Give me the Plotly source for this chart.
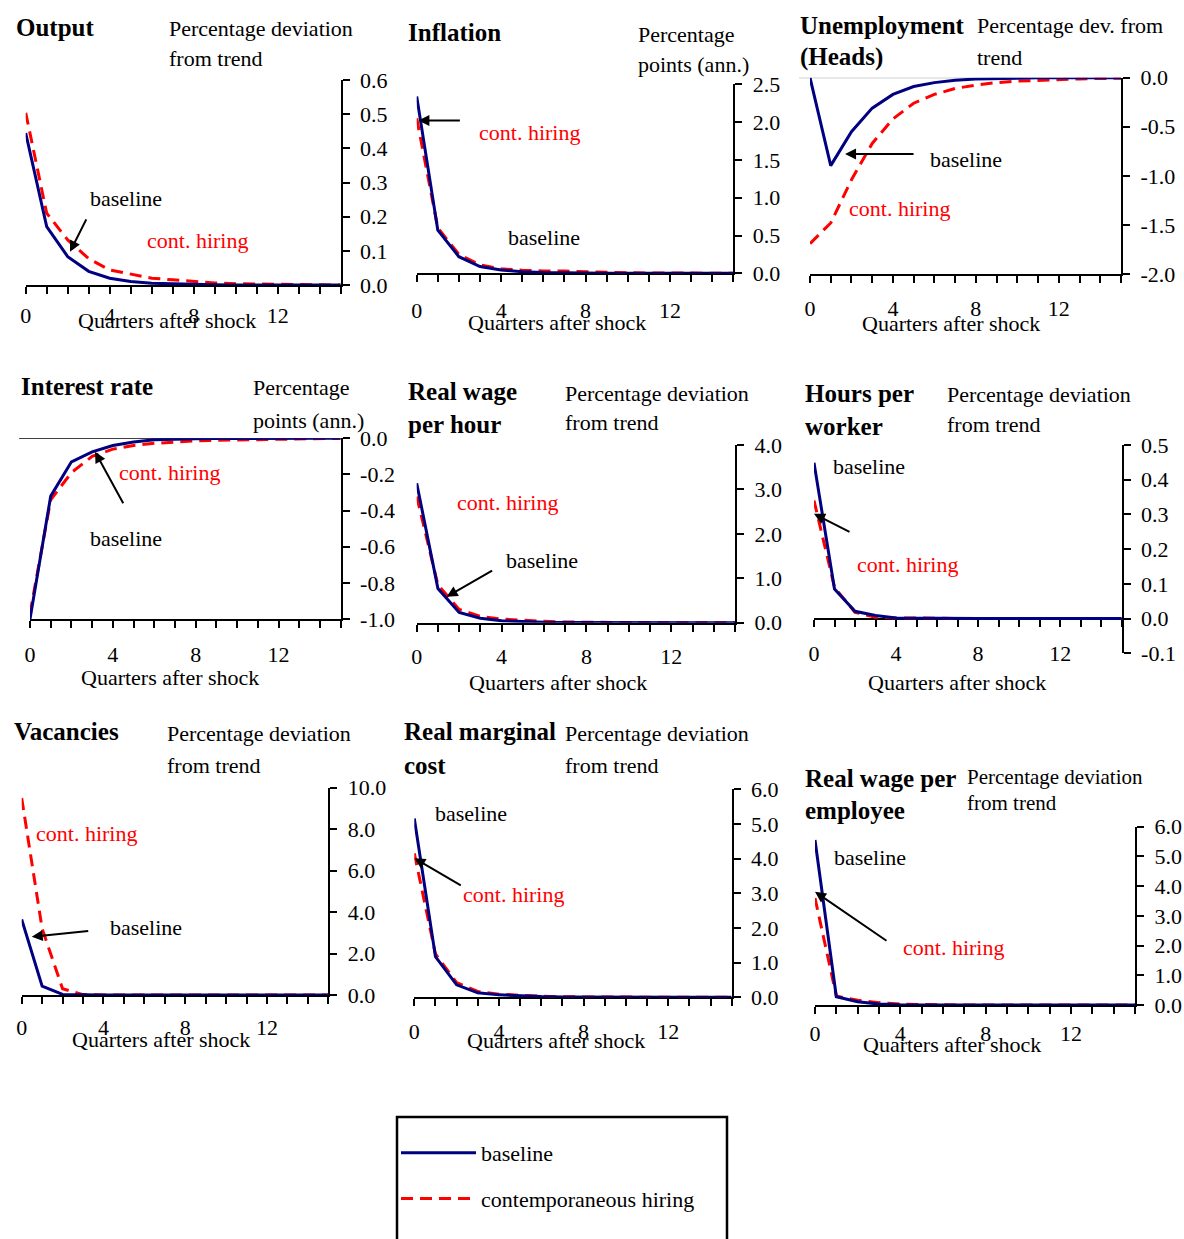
import plotly.graph_objects as go

W, H = 1184, 1239
FONT = "Liberation Serif"
BLUE = "#000080"
RED = "#FF0000"

# ---------------- data (quarters after shock 0..15) ----------------
quarters = list(range(16))
x_tickvals = list(range(16))
x_ticktext = ["0", "", "", "", "4", "", "", "", "8", "", "", "", "12", "", "", ""]

output_baseline = [0.445, 0.171, 0.083, 0.040, 0.020, 0.010, 0.005, 0.003, 0.002, 0.001, 0, 0, 0, 0, 0, 0]
output_hiring = [0.504, 0.210, 0.132, 0.077, 0.044, 0.031, 0.020, 0.015, 0.010, 0.006, 0.004, 0.003, 0.002, 0.001, 0.001, 0]

inflation_baseline = [2.34, 0.57, 0.22, 0.09, 0.044, 0.02, 0.01, 0.005, 0.003, 0.002, 0.001, 0, 0, 0, 0, 0]
inflation_hiring = [2.05, 0.60, 0.25, 0.11, 0.06, 0.04, 0.03, 0.03, 0.02, 0.01, 0.007, 0.005, 0.003, 0.002, 0.001, 0]

unemp_baseline = [0, -0.896, -0.55, -0.31, -0.17, -0.09, -0.05, -0.025, -0.012, -0.006, -0.003, -0.001, 0, 0, 0, 0]
unemp_hiring = [-1.69, -1.48, -1.04, -0.67, -0.42, -0.26, -0.17, -0.11, -0.075, -0.05, -0.035, -0.025, -0.018, -0.012, -0.008, -0.005]

interest_baseline = [-1.0, -0.32, -0.13, -0.075, -0.04, -0.02, -0.008, -0.004, -0.002, -0.001, 0, 0, 0, 0, 0, 0]
interest_hiring = [-0.97, -0.34, -0.19, -0.10, -0.06, -0.04, -0.028, -0.02, -0.014, -0.011, -0.009, -0.006, -0.004, -0.002, -0.001, 0]

wage_hour_baseline = [3.14, 0.77, 0.23, 0.10, 0.045, 0.02, 0.01, 0.005, 0.002, 0.001, 0, 0, 0, 0, 0, 0]
wage_hour_hiring = [2.84, 0.85, 0.30, 0.14, 0.08, 0.05, 0.03, 0.015, 0.008, 0.004, 0.002, 0.001, 0, 0, 0, 0]

hours_baseline = [0.449, 0.085, 0.021, 0.009, 0.002, 0.001, 0, 0, 0, 0, 0, 0, 0, 0, 0, 0]
hours_hiring = [0.34, 0.09, 0.018, 0.004, 0.002, 0.001, 0, 0, 0, 0, 0, 0, 0, 0, 0, 0]

vacancies_baseline = [3.65, 0.43, 0.03, 0, 0, 0, 0, 0, 0, 0, 0, 0, 0, 0, 0, 0]
vacancies_hiring = [9.5, 3.2, 0.3, 0.02, 0, 0, 0, 0, 0, 0, 0, 0, 0, 0, 0, 0]

rmc_baseline = [5.16, 1.17, 0.36, 0.13, 0.07, 0.04, 0.02, 0.01, 0.005, 0.002, 0.001, 0, 0, 0, 0, 0]
rmc_hiring = [4.15, 1.25, 0.42, 0.17, 0.09, 0.05, 0.03, 0.015, 0.008, 0.004, 0.002, 0.001, 0, 0, 0, 0]

wage_emp_baseline = [5.55, 0.28, 0.11, 0.03, 0.01, 0, 0, 0, 0, 0, 0, 0, 0, 0, 0, 0]
wage_emp_hiring = [3.6, 0.3, 0.16, 0.08, 0.03, 0.01, 0.005, 0, 0, 0, 0, 0, 0, 0, 0, 0]

# y tick values / labels
output_yticks = [0, 0.1, 0.2, 0.3, 0.4, 0.5, 0.6]
output_ylabels = ["0.0", "0.1", "0.2", "0.3", "0.4", "0.5", "0.6"]
inflation_yticks = [0, 0.5, 1.0, 1.5, 2.0, 2.5]
inflation_ylabels = ["0.0", "0.5", "1.0", "1.5", "2.0", "2.5"]
unemp_yticks = [-2.0, -1.5, -1.0, -0.5, 0]
unemp_ylabels = ["-2.0", "-1.5", "-1.0", "-0.5", "0.0"]
interest_yticks = [-1.0, -0.8, -0.6, -0.4, -0.2, 0]
interest_ylabels = ["-1.0", "-0.8", "-0.6", "-0.4", "-0.2", "0.0"]
wage_hour_yticks = [0, 1, 2, 3, 4]
wage_hour_ylabels = ["0.0", "1.0", "2.0", "3.0", "4.0"]
hours_yticks = [-0.1, 0, 0.1, 0.2, 0.3, 0.4, 0.5]
hours_ylabels = ["-0.1", "0.0", "0.1", "0.2", "0.3", "0.4", "0.5"]
vacancies_yticks = [0, 2, 4, 6, 8, 10]
vacancies_ylabels = ["0.0", "2.0", "4.0", "6.0", "8.0", "10.0"]
rmc_yticks = [0, 1, 2, 3, 4, 5, 6]
rmc_ylabels = ["0.0", "1.0", "2.0", "3.0", "4.0", "5.0", "6.0"]
wage_emp_yticks = [0, 1, 2, 3, 4, 5, 6]
wage_emp_ylabels = ["0.0", "1.0", "2.0", "3.0", "4.0", "5.0", "6.0"]

# ---------------- panel layout (pixel geometry & texts) ----------------
panels = [
    dict(base=output_baseline, hire=output_hiring, yr=[0, 0.6], yt=output_yticks, yl=output_ylabels,
         L=25.7, R=340.7, T=80, B=285, xaxis_at=None, standoff=3,
         title=[("Output", 14, 27)], units=[("Percentage deviation", 167, 28), ("from trend", 167, 58)],
         qpos=(167, 320),
         base_lbl=(88, 198), hire_lbl=(145, 240),
         arrow=(2.11, 0.097, 17, -34)),
    dict(base=inflation_baseline, hire=inflation_hiring, yr=[0, 2.5], yt=inflation_yticks, yl=inflation_ylabels,
         L=416.7, R=733.3, T=84.3, B=273.3, xaxis_at=None, standoff=9,
         title=[("Inflation", 406, 32)], units=[("Percentage", 636, 35), ("points (ann.)", 636, 65)],
         qpos=(557, 322),
         base_lbl=(506, 237), hire_lbl=(477, 132),
         arrow=(0.08, 2.02, 43, 0)),
    dict(base=unemp_baseline, hire=unemp_hiring, yr=[-2.0, 0], yt=unemp_yticks, yl=unemp_ylabels,
         L=810, R=1121, T=77.7, B=274, xaxis_at=None, standoff=7,
         title=[("Unemployment", 798, 26), ("(Heads)", 798, 57)],
         units=[("Percentage dev. from", 975, 26), ("trend", 975, 57)],
         qpos=(951, 323),
         base_lbl=(928, 159), hire_lbl=(847, 209),
         arrow=(1.69, -0.777, 70, 0), zero=("#888888", 1)),
    dict(base=interest_baseline, hire=interest_hiring, yr=[-1.0, 0], yt=interest_yticks, yl=interest_ylabels,
         L=30, R=340.7, T=438.3, B=619, xaxis_at=None, standoff=8,
         title=[("Interest rate", 19, 387)], units=[("Percentage", 251, 388), ("points (ann.)", 251, 420)],
         qpos=(170, 677),
         base_lbl=(88, 538), hire_lbl=(117, 472),
         arrow=(3.14, -0.074, 29, 53), zero=("#000000", 1.5)),
    dict(base=wage_hour_baseline, hire=wage_hour_hiring, yr=[0, 4], yt=wage_hour_yticks, yl=wage_hour_ylabels,
         L=416.7, R=735, T=445, B=622.7, xaxis_at=None, standoff=6,
         title=[("Real wage", 406, 392), ("per hour", 406, 424)],
         units=[("Percentage deviation", 563, 393), ("from trend", 563, 422)],
         qpos=(558, 682),
         base_lbl=(504, 560), hire_lbl=(455, 502),
         arrow=(1.41, 0.585, 47, -27)),
    dict(base=hours_baseline, hire=hours_hiring, yr=[-0.1, 0.5], yt=hours_yticks, yl=hours_ylabels,
         L=814, R=1121.7, T=445, B=653.3, xaxis_at=619, standoff=8,
         title=[("Hours per", 803, 393), ("worker", 803, 426)],
         units=[("Percentage deviation", 945, 394), ("from trend", 945, 424)],
         qpos=(957, 682),
         base_lbl=(831, 467), hire_lbl=(855, 564),
         arrow=(0.0, 0.302, 37, 19)),
    dict(base=vacancies_baseline, hire=vacancies_hiring, yr=[0, 10], yt=vacancies_yticks, yl=vacancies_ylabels,
         L=21.7, R=328.3, T=787.7, B=995, xaxis_at=None, standoff=5,
         title=[("Vacancies", 12, 732)], units=[("Percentage deviation", 165, 733), ("from trend", 165, 765)],
         qpos=(161, 1039),
         base_lbl=(108, 927), hire_lbl=(34, 833),
         arrow=(0.49, 2.81, 58, -6)),
    dict(base=rmc_baseline, hire=rmc_hiring, yr=[0, 6], yt=rmc_yticks, yl=rmc_ylabels,
         L=414.3, R=731.7, T=789.3, B=997.3, xaxis_at=None, standoff=6,
         title=[("Real marginal", 402, 732), ("cost", 402, 765)],
         units=[("Percentage deviation", 563, 733), ("from trend", 563, 765)],
         qpos=(556, 1040),
         base_lbl=(433, 813), hire_lbl=(461, 894),
         arrow=(0.0, 4.01, 48, 28)),
    dict(base=wage_emp_baseline, hire=wage_emp_hiring, yr=[0, 6], yt=wage_emp_yticks, yl=wage_emp_ylabels,
         L=815, R=1135, T=826.7, B=1005, xaxis_at=None, standoff=1,
         title=[("Real wage per", 803, 778), ("employee", 803, 810)],
         units=[("Percentage deviation", 965, 777), ("from trend", 965, 803)],
         qpos=(952, 1044),
         base_lbl=(832, 857), hire_lbl=(901, 947),
         arrow=(0.0, 3.81, 73, 50)),
]


def px(x):
    return x / W


def py(y):
    return 1 - y / H


fig = go.Figure()
annotations = []
shapes = []
layout_axes = {}

for i, p in enumerate(panels, start=1):
    sfx = "" if i == 1 else str(i)
    xa, ya = "x" + sfx, "y" + sfx
    first = (i == 1)
    fig.add_trace(go.Scatter(
        x=quarters, y=p["hire"], mode="lines", xaxis=xa, yaxis=ya,
        line=dict(color=RED, width=3, dash="12px,7px"), cliponaxis=False,
        name="contemporaneous hiring", legendgroup="hire", legendrank=2, showlegend=first))
    fig.add_trace(go.Scatter(
        x=quarters, y=p["base"], mode="lines", xaxis=xa, yaxis=ya,
        line=dict(color=BLUE, width=3), cliponaxis=False,
        name="baseline", legendgroup="base", legendrank=1, showlegend=first))

    xdom = [px(p["L"]), px(p["R"])]
    ydom = [py(p["B"]), py(p["T"])]
    xaxis = dict(domain=xdom, range=[0, 15], showgrid=False, zeroline=False,
                 showline=True, linecolor="black", linewidth=2,
                 ticks="outside", ticklen=7, tickwidth=1.5, tickcolor="black",
                 tickvals=x_tickvals, ticktext=x_ticktext,
                 tickfont=dict(family=FONT, size=22, color="black"),
                 ticklabelstandoff=p["standoff"], layer="below traces", fixedrange=True,
                 automargin=False)
    if p["xaxis_at"] is not None:
        xaxis.update(anchor="free", position=py(p["xaxis_at"]))
    else:
        xaxis.update(anchor=ya)
    yaxis = dict(domain=ydom, range=p["yr"], anchor=xa, side="right",
                 showgrid=False, zeroline=False, showline=True, linecolor="black", linewidth=2,
                 ticks="outside", ticklen=7, tickwidth=1.5, tickcolor="black",
                 tickvals=p["yt"], ticktext=p["yl"],
                 tickfont=dict(family=FONT, size=22, color="black"),
                 ticklabelstandoff=6, layer="below traces", fixedrange=True,
                 automargin=False)
    layout_axes["xaxis" + sfx] = xaxis
    layout_axes["yaxis" + sfx] = yaxis

    # texts
    for (t, x0, y0) in p["title"]:
        annotations.append(dict(text="<b>" + t + "</b>", x=px(x0), y=py(y0), xref="paper", yref="paper",
                                xanchor="left", yanchor="middle", showarrow=False,
                                font=dict(family=FONT, size=25, color="black")))
    usize = 21 if i == 9 else 22
    for (t, x0, y0) in p["units"]:
        annotations.append(dict(text=t, x=px(x0), y=py(y0), xref="paper", yref="paper",
                                xanchor="left", yanchor="middle", showarrow=False,
                                font=dict(family=FONT, size=usize, color="black")))
    annotations.append(dict(text="Quarters after shock", x=px(p["qpos"][0]), y=py(p["qpos"][1]),
                            xref="paper", yref="paper", xanchor="center", yanchor="middle",
                            showarrow=False, font=dict(family=FONT, size=22, color="black")))
    annotations.append(dict(text="baseline", x=px(p["base_lbl"][0]), y=py(p["base_lbl"][1]),
                            xref="paper", yref="paper", xanchor="left", yanchor="middle",
                            showarrow=False, font=dict(family=FONT, size=22, color="black")))
    annotations.append(dict(text="cont. hiring", x=px(p["hire_lbl"][0]), y=py(p["hire_lbl"][1]),
                            xref="paper", yref="paper", xanchor="left", yanchor="middle",
                            showarrow=False, font=dict(family=FONT, size=22, color=RED)))
    ax_, ay_, dx, dy = p["arrow"]
    annotations.append(dict(text="", x=ax_, y=ay_, xref=xa, yref=ya, ax=dx, ay=dy,
                            showarrow=True, arrowhead=2, arrowsize=1.1, arrowwidth=2,
                            arrowcolor="black", standoff=0))
    if "zero" in p:
        col, wid = p["zero"]
        shapes.append(dict(type="line", xref=xa + " domain", yref=ya, x0=-0.035, x1=1, y0=0, y1=0,
                           line=dict(color=col, width=wid), layer="below"))

# legend box
shapes.append(dict(type="rect", xref="paper", yref="paper", x0=px(397), x1=px(727), y0=py(1250), y1=py(1117),
                   line=dict(color="black", width=2.5), fillcolor="rgba(0,0,0,0)"))

fig.update_layout(
    width=W, height=H, margin=dict(l=0, r=0, t=0, b=0, pad=0, autoexpand=False),
    paper_bgcolor="white", plot_bgcolor="white",
    annotations=annotations, shapes=shapes,
    showlegend=True,
    legend=dict(x=px(396), y=py(1132), xanchor="left", yanchor="top",
                bgcolor="rgba(0,0,0,0)", borderwidth=0,
                font=dict(family=FONT, size=22, color="black"),
                tracegroupgap=14, itemwidth=75, traceorder="grouped"),
    **layout_axes,
)

fig.write_html("out.html", config={"displayModeBar": False},
               post_script="document.body.style.margin='0px';")
